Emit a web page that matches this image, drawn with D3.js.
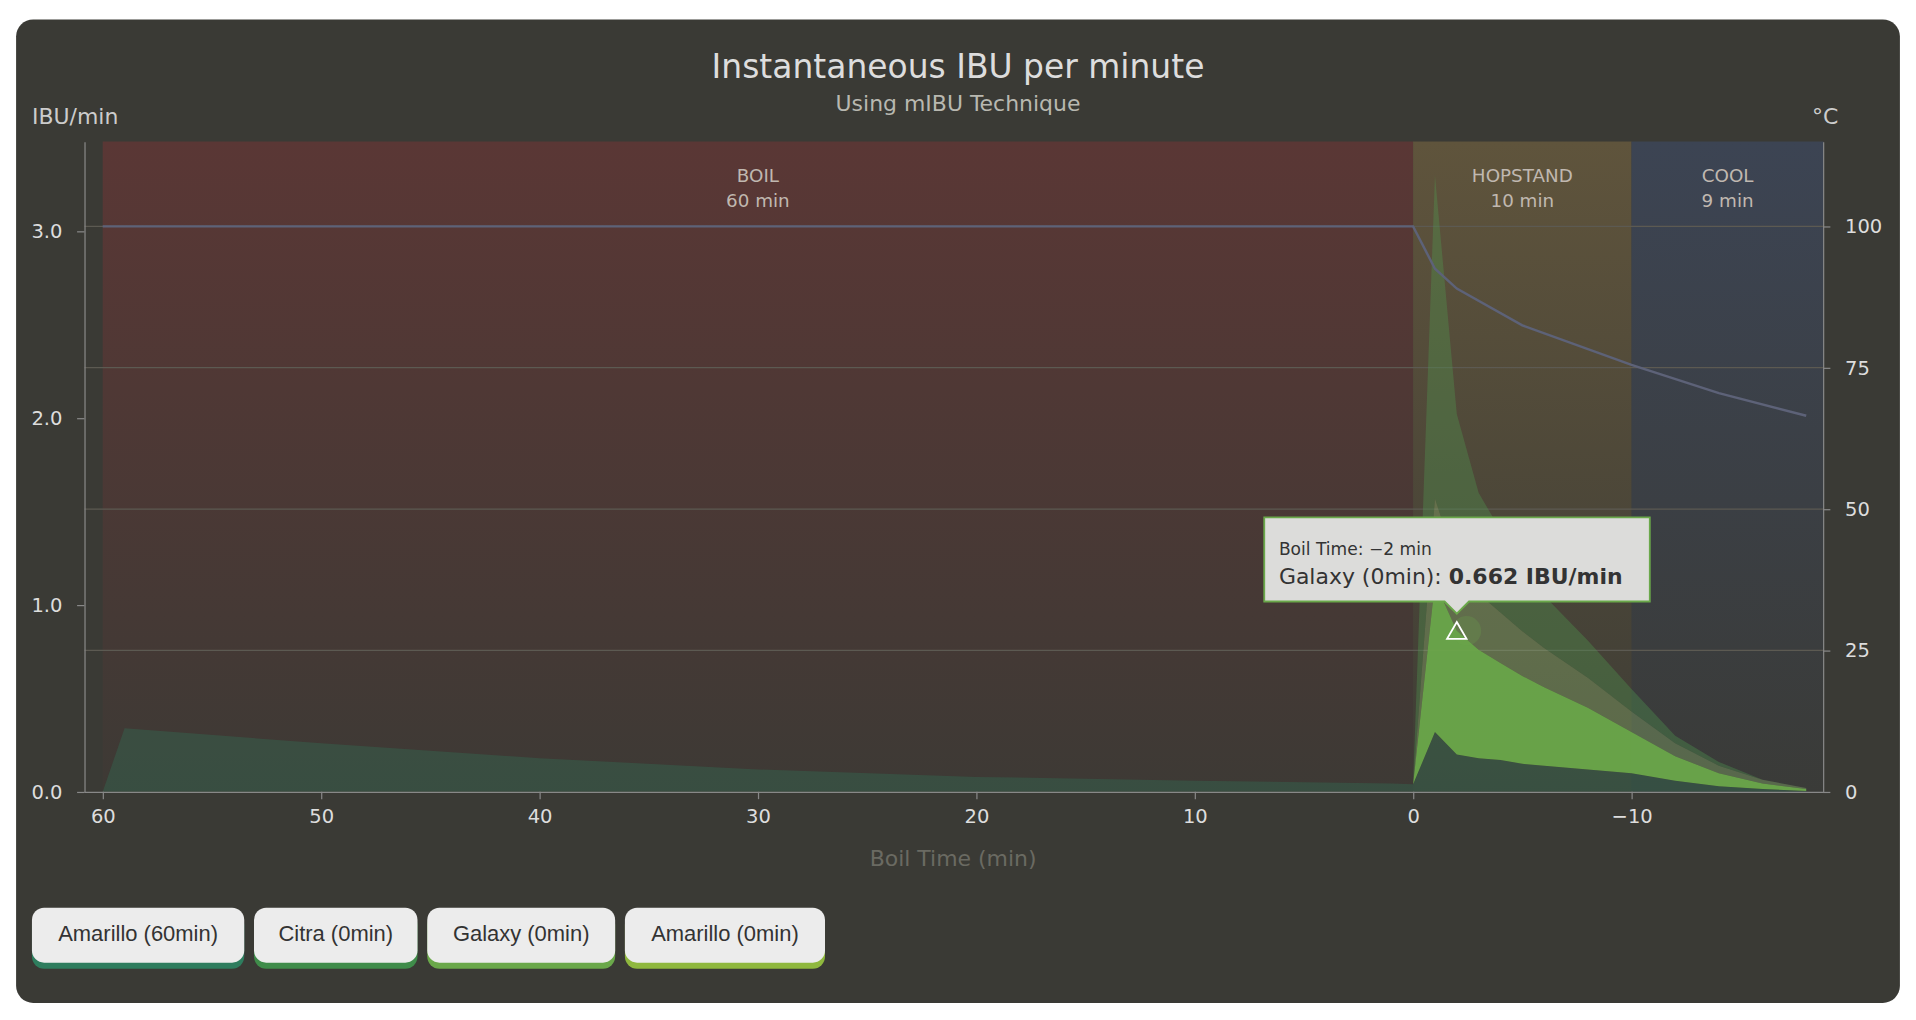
<!DOCTYPE html>
<html><head><meta charset="utf-8">
<script src="https://cdn.jsdelivr.net/npm/d3@7"></script>
<style>body{margin:0;background:#fff;font-family:"DejaVu Sans",sans-serif}</style>
</head><body><div id="chart"></div>
<script>
// data
const times = [60,59,50,40,30,20,10,1,0,-1,-2,-3,-4,-5,-6,-8,-10,-12,-14,-16,-18];
const amarillo60 = [0,.34,.26,.18,.12,.08,.06,.045,.04,.32,.2,.18,.17,.15,.14,.12,.1,.06,.03,.015,.005];
const galaxy0   = [0,0,0,0,0,0,0,0,0,.8,.662,.58,.52,.47,.42,.33,.22,.13,.07,.03,.01];
const amarillo0 = [0,0,0,0,0,0,0,0,0,.45,.35,.3,.27,.24,.21,.16,.11,.07,.04,.02,.005];
const citra0    = [0,0,0,0,0,0,0,0,0,1.73,.81,.54,.44,.34,.28,.2,.12,.04,.02,0,0];
const tempTimes = [60,0,-1,-2,-5,-10,-14,-18];
const tempVals  = [100,100,92.5,89,82.5,75.5,70.5,66.5];
const phases = [{name:"BOIL",len:"60 min",from:60,to:0,c:"#5a3735"},
                {name:"HOPSTAND",len:"10 min",from:0,to:-10,c:"#5f543c"},
                {name:"COOL",len:"9 min",from:-10,to:-18.8,c:"#3c4453"}];
const legendNames = ["Amarillo (60min)","Citra (0min)","Galaxy (0min)","Amarillo (0min)"];
const legendColors = ["#2e7d5e","#3f8c4a","#6aa84a","#8fb83e"];

const W = 1568, H = 836;
const svg = d3.select("#chart").append("svg")
  .attr("width", 1916).attr("height", 1020).attr("viewBox", [0,0,W,H]);
const defs = svg.append("defs");

svg.append("rect").attr("x",12).attr("y",16).attr("width",1544).attr("height",806)
  .attr("rx",14).attr("fill","#3a3a35");

const x = d3.scaleLinear([60,-18.77],[83,1493]);
const y = d3.scaleLinear([0,3.48],[649,116]);
const yT = d3.scaleLinear([0,115],[649,116]);

// phase bands
phases.forEach((p,i) => {
  const g = defs.append("linearGradient").attr("id","pg"+i).attr("x1",0).attr("x2",0).attr("y1",0).attr("y2",1);
  g.append("stop").attr("offset",0).attr("stop-color",p.c);
  g.append("stop").attr("offset",1).attr("stop-color",p.c).attr("stop-opacity",0.1);
  svg.append("rect").attr("x",x(p.from)).attr("width",x(p.to)-x(p.from))
    .attr("y",116).attr("height",533).attr("fill",`url(#pg${i})`);
  const cx = (x(p.from)+x(p.to))/2;
  svg.append("text").attr("x",cx).attr("y",149).attr("text-anchor","middle")
    .attr("fill","#c0b8b0").attr("font-size",15).text(p.name);
  svg.append("text").attr("x",cx).attr("y",170).attr("text-anchor","middle")
    .attr("fill","#c0b8b0").attr("font-size",15).text(p.len);
});

// grid lines (right axis)
svg.append("g").selectAll("line").data([25,50,75,100]).join("line")
  .attr("x1",68).attr("x2",1493).attr("y1",d=>yT(d)).attr("y2",d=>yT(d))
  .attr("stroke","#5c5a52").attr("stroke-width",1);

// stacked areas
const keys = ["a60","gal","am0","cit"];
const rows = times.map((t,i)=>({t,a60:amarillo60[i],gal:galaxy0[i],am0:amarillo0[i],cit:citra0[i]}));
const stack = d3.stack().keys(keys)(rows);
const fills = {a60:["#2e7d5e",0.3],gal:["#6aa84a",0.95],am0:["#9fd07a",0.3],cit:["#4f9a50",0.35]};
const area = d3.area().x(d=>x(d.data.t)).y0(d=>y(d[0])).y1(d=>y(d[1]));
svg.append("g").selectAll("path").data(stack).join("path")
  .attr("d",area).attr("fill",d=>fills[d.key][0]).attr("fill-opacity",d=>fills[d.key][1]);

// temperature
svg.append("path").datum(tempTimes.map((t,i)=>[t,tempVals[i]]))
  .attr("d",d3.line().x(d=>x(d[0])).y(d=>yT(d[1])))
  .attr("fill","none").attr("stroke","#5d6278").attr("stroke-width",2);

// axes
const axStyle = g => { g.selectAll(".domain").attr("stroke","#888");
  g.selectAll(".tick line").attr("stroke","#888");
  g.selectAll("text").attr("fill","#ddd").attr("font-size",16).attr("font-family","DejaVu Sans"); };
svg.append("g").attr("transform","translate(0,649)")
  .call(d3.axisBottom(x).tickValues([60,50,40,30,20,10,0,-10]).tickSizeOuter(0).tickPadding(8)
    .tickFormat(d=>d<0?"\u2212"+(-d):d))
  .call(axStyle).select(".domain").attr("d","M68,0.5H1493");
svg.append("g").attr("transform","translate(68,0)")
  .call(d3.axisLeft(y).tickValues([0,1,2,3]).tickSizeOuter(0).tickPadding(12)).call(axStyle);
svg.append("g").attr("transform","translate(1493,0)")
  .call(d3.axisRight(yT).tickValues([0,25,50,75,100]).tickSizeOuter(0).tickPadding(12)).call(axStyle);

// titles
svg.append("text").attr("x",784).attr("y",64).attr("text-anchor","middle")
  .attr("fill","#ddd").attr("font-size",27).text("Instantaneous IBU per minute");
svg.append("text").attr("x",784).attr("y",91).attr("text-anchor","middle")
  .attr("fill","#b8b8b0").attr("font-size",18).text("Using mIBU Technique");
svg.append("text").attr("x",25).attr("y",102).attr("fill","#ccc").attr("font-size",18).text("IBU/min");
svg.append("text").attr("x",1484).attr("y",102).attr("fill","#ccc").attr("font-size",18).text("°C");
svg.append("text").attr("x",780).attr("y",710).attr("text-anchor","middle")
  .attr("fill","#6a6a62").attr("font-size",18).text("Boil Time (min)");

// hover marker + tooltip
const ht = -2, hv = amarillo60[times.indexOf(ht)] + galaxy0[times.indexOf(ht)];
svg.append("circle").attr("cx",x(ht)+8).attr("cy",y(hv)).attr("r",12).attr("fill","#6aa84a").attr("opacity",0.25);
svg.append("path").attr("d",d3.symbol(d3.symbolTriangle,110)())
  .attr("transform",`translate(${x(ht)},${y(hv)+2})`)
  .attr("fill","none").attr("stroke","#fff").attr("stroke-width",1.5);
const tx = x(ht);
svg.append("path")
  .attr("d",`M1035,424H1351V493H${tx+10}L${tx},503L${tx-10},493H1035Z`)
  .attr("fill","#dcdcda").attr("stroke","#6aa84a").attr("stroke-width",1.5);
svg.append("text").attr("x",1047).attr("y",455).attr("fill","#333").attr("font-size",14).text("Boil Time: \u22122 min");
const tt = svg.append("text").attr("x",1047).attr("y",479).attr("fill","#333").attr("font-size",18);
tt.append("tspan").text("Galaxy (0min): ");
tt.append("tspan").attr("font-weight","bold").text(d3.format(".3f")(galaxy0[times.indexOf(ht)]) + " IBU/min");

// legend buttons
const lx = [25,207,349,511], lw = [174,134,154,164];
legendNames.forEach((n,i)=>{
  const g = svg.append("g").attr("transform",`translate(${lx[i]},744)`);
  g.append("rect").attr("y",4).attr("width",lw[i]).attr("height",46).attr("rx",10).attr("fill",legendColors[i]);
  g.append("rect").attr("width",lw[i]).attr("height",45).attr("rx",10).attr("fill","#ececec");
  g.append("text").attr("x",lw[i]/2).attr("y",27).attr("text-anchor","middle")
    .attr("font-family","Liberation Sans").attr("fill","#333").attr("font-size",18).text(n);
});
</script></body></html>
